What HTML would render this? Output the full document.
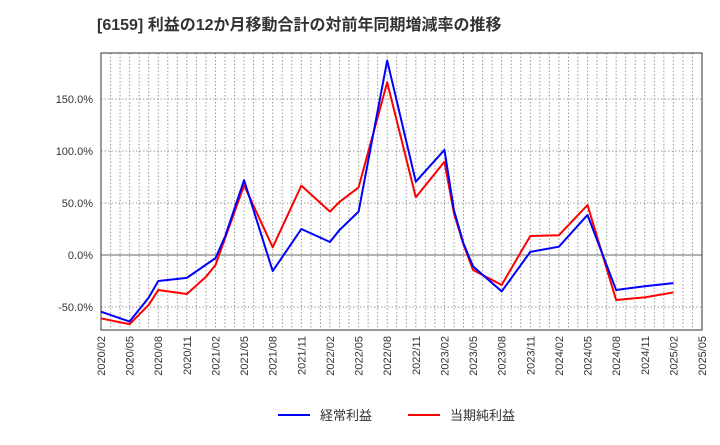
<!DOCTYPE html>
<html><head><meta charset="utf-8"><style>
body{margin:0;background:#fff;}
svg text{font-family:"Liberation Sans","Noto Sans CJK JP",sans-serif;}
</style></head><body>
<svg id="c" width="720" height="440" xmlns="http://www.w3.org/2000/svg">
<text x="97" y="30" font-size="16" font-weight="bold" fill="#333">[6159]  利益の12か月移動合計の対前年同期増減率の推移</text>
<g id="grid"></g>
<g id="axes"></g>
<g id="series"></g>
<g>
<line x1="278" y1="415" x2="310" y2="415" stroke="#0000ff" stroke-width="2"/>
<text x="320" y="420" font-size="13" fill="#333">経常利益</text>
<line x1="408" y1="415" x2="440" y2="415" stroke="#ff0000" stroke-width="2"/>
<text x="450" y="420" font-size="13" fill="#333">当期純利益</text>
</g>
</svg>
<script>
const blueMonths=[0,3,5,6,9,12,13,15,18,21,24,25,27,30,33,36,37,38,39,42,45,48,51,54,57,60];
const blueValues=[-54.5,-64,-41,-25,-22,-3,17.6,72,-15.5,25,12.5,24,41.7,187,70.5,101,43,11,-11,-35,3,8,38.5,-33.7,-30,-27];
const redMonths=[0,3,5,6,9,11,12,15,18,21,24,25,27,30,33,36,37,38,39,42,45,48,51,54,57,60];
const redValues=[-61,-66.5,-48,-33.7,-37.5,-21,-9.6,67,7.4,66.7,41.7,51,65,166,55.5,89.7,40,10,-14.4,-28.8,18.3,19,48,-43.3,-40.7,-36];
const yTicks=[-50,0,50,100,150];
const xLabels=["2020/02","2020/05","2020/08","2020/11","2021/02","2021/05","2021/08","2021/11","2022/02","2022/05","2022/08","2022/11","2023/02","2023/05","2023/08","2023/11","2024/02","2024/05","2024/08","2024/11","2025/02","2025/05"];
const L=101,R=702,T=53,B=330,NM=63;
const xs=m=>L+(R-L)*m/NM;
const ys=v=>255-v*52/50;
const NS="http://www.w3.org/2000/svg";
function mk(tag,attrs,parent){const e=document.createElementNS(NS,tag);for(const k in attrs)e.setAttribute(k,attrs[k]);parent.appendChild(e);return e;}
const grid=document.getElementById('grid'),axes=document.getElementById('axes'),series=document.getElementById('series');
for(let m=1;m<NM;m++){const l=mk('line',{x1:xs(m),x2:xs(m),y1:T,y2:B,stroke:'#999','stroke-dasharray':'1.5,2','stroke-width':1},grid);

}
yTicks.forEach(v=>{const l=mk('line',{x1:L,x2:R,y1:ys(v),y2:ys(v),stroke:v===0?'#666':'#999','stroke-dasharray':v===0?'none':'1.5,2','stroke-width':1},grid);


const t=mk('text',{x:L-8,y:ys(v)+4,'text-anchor':'end','font-size':11,fill:'#333'},axes);


t.textContent=v.toFixed(1)+'%';});
xLabels.forEach((s,i)=>{const x=xs(i*3);const t=mk('text',{x:x+4,y:B+6,'text-anchor':'end','font-size':11,fill:'#333',transform:`rotate(-90 ${x+4} ${B+6})`},axes);


t.textContent=s;});
const fr=mk('rect',{x:L,y:T,width:R-L,height:B-T,fill:'none',stroke:'#333','stroke-width':1},axes);


function draw(ms,vs,col,name){const p=mk('polyline',{points:ms.map((m,i)=>xs(m)+','+ys(vs[i])).join(' '),fill:'none',stroke:col,'stroke-width':2,'stroke-linejoin':'round'},series);

}
draw(redMonths,redValues,'#ff0000','net-profit-line');
draw(blueMonths,blueValues,'#0000ff','operating-profit-line');
</script>
</body></html>
